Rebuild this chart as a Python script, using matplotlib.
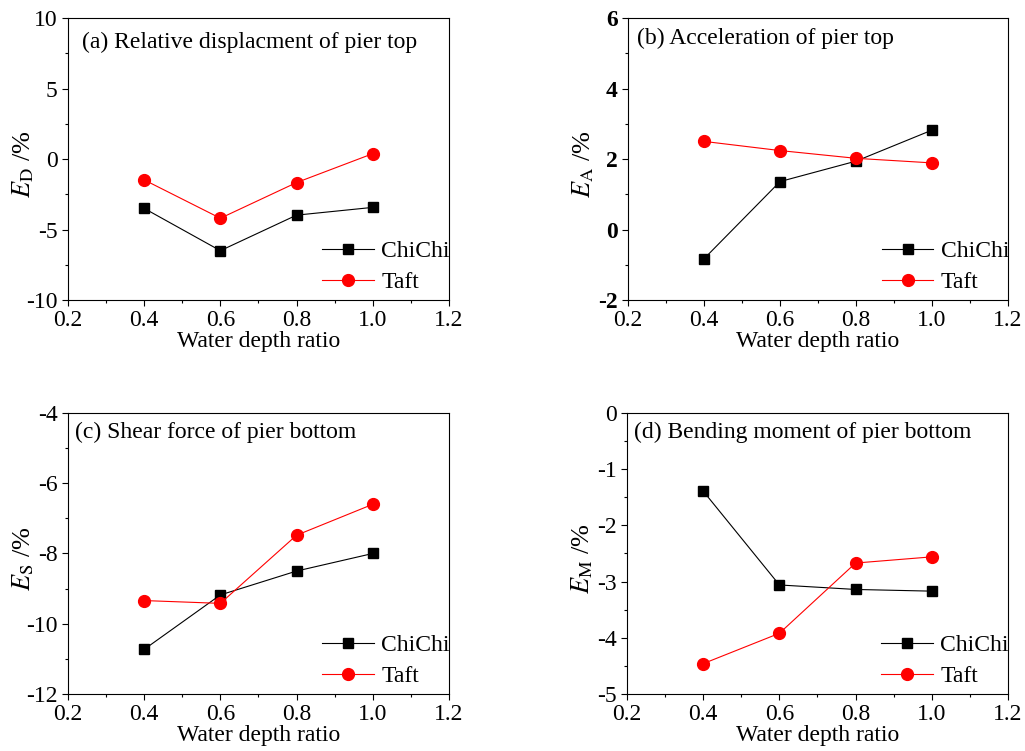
import matplotlib
matplotlib.use("Agg")
import matplotlib.pyplot as plt
from matplotlib.ticker import MultipleLocator, AutoMinorLocator

plt.rcParams['font.family'] = ['Liberation Serif', 'DejaVu Serif']
plt.rcParams['mathtext.fontset'] = 'stix'
plt.rcParams['axes.unicode_minus'] = False

# data
depth = [0.4, 0.6, 0.8, 1.0]
chichi_D = [-3.5, -6.5, -3.98, -3.43]
taft_D = [-1.48, -4.2, -1.67, 0.38]
chichi_A = [-0.83, 1.36, 1.94, 2.82]
taft_A = [2.5, 2.24, 2.02, 1.89]
chichi_S = [-10.73, -9.18, -8.5, -8.0]
taft_S = [-9.34, -9.42, -7.48, -6.6]
chichi_M = [-1.39, -3.06, -3.14, -3.17]
taft_M = [-4.46, -3.92, -2.67, -2.56]

panels = [
    ("(a) Relative displacment of pier top", r"$E_{\mathrm{D}}$ /%", chichi_D, taft_D, (-10, 10), 5, False),
    ("(b) Acceleration of pier top", r"$E_{\mathrm{A}}$ /%", chichi_A, taft_A, (-2, 6), 2, True),
    ("(c) Shear force of pier bottom", r"$E_{\mathrm{S}}$ /%", chichi_S, taft_S, (-12, -4), 2, False),
    ("(d) Bending moment of pier bottom", r"$E_{\mathrm{M}}$ /%", chichi_M, taft_M, (-5, 0), 1, False),
]
boxes = [
    [0.0663, 0.6005, 0.3717, 0.3755],
    [0.6127, 0.6005, 0.3707, 0.3755],
    [0.0663, 0.0759, 0.3717, 0.3742],
    [0.6117, 0.0759, 0.3717, 0.3742],
]
title_pos = [(0.037, 0.915), (0.024, 0.926), (0.018, 0.932), (0.018, 0.93)]

fs = 17
fig = plt.figure(figsize=(10.25, 7.51), dpi=100)
for i in range(4):
    title, ylab, cc, tf, ylim, ystep, bold = panels[i]
    ax = fig.add_axes(boxes[i])
    ax.plot(depth, cc, color='black', lw=0.8, marker='s', ms=7.5, label='ChiChi')
    ax.plot(depth, tf, color='red', lw=0.8, marker='o', ms=8.5, label='Taft')
    ax.set_xlim(0.2, 1.2)
    ax.set_ylim(*ylim)
    ax.xaxis.set_major_locator(MultipleLocator(0.2))
    ax.xaxis.set_minor_locator(AutoMinorLocator(2))
    ax.yaxis.set_major_locator(MultipleLocator(ystep))
    ax.yaxis.set_minor_locator(AutoMinorLocator(2))
    ax.tick_params(which='both', direction='out', top=False, right=False, labelsize=fs, width=0.8)
    ax.tick_params(which='major', length=4)
    ax.tick_params(which='minor', length=2.5)
    ax.set_xticklabels(['%.1f' % v for v in ax.get_xticks()])
    if bold:
        for lb in ax.get_yticklabels():
            lb.set_fontweight('bold')
    ax.set_xlabel("Water depth ratio", fontsize=fs, labelpad=0)
    ax.set_ylabel(ylab, fontsize=19, va='center')
    ax.yaxis.set_label_coords(-0.118, 0.48)
    for sp in ax.spines.values():
        sp.set_linewidth(0.8)
    ax.text(title_pos[i][0], title_pos[i][1], title, transform=ax.transAxes,
            fontsize=fs, va='center', ha='left')
    ax.legend(loc='lower left', bbox_to_anchor=(0.661, 0.015), frameon=False,
              fontsize=fs, handlelength=2.2, handletextpad=0.3,
              labelspacing=0.4, borderpad=0.1, borderaxespad=0)

fig.savefig("out.png", dpi=100)
